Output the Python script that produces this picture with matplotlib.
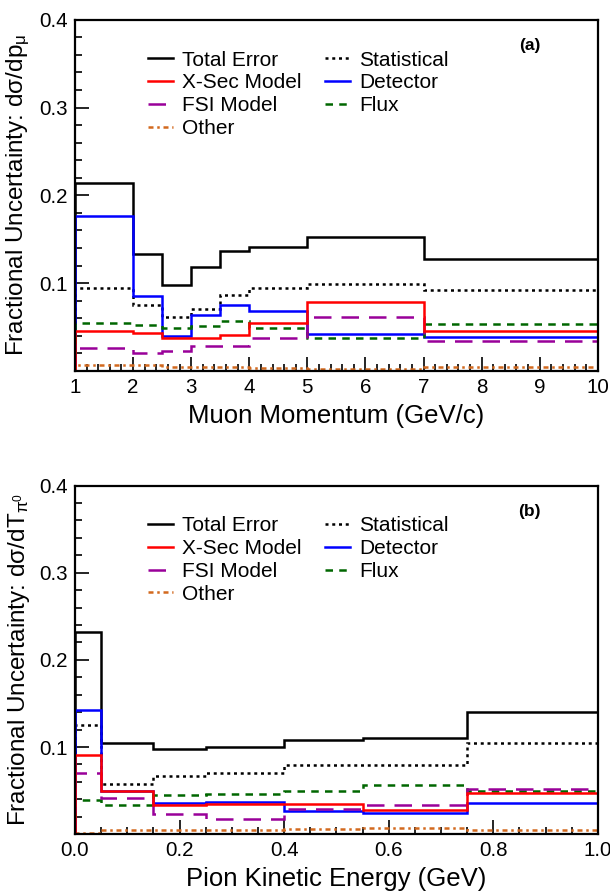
import matplotlib
matplotlib.use('Agg')
import matplotlib.pyplot as plt
from matplotlib.ticker import MultipleLocator, FormatStrFormatter, FuncFormatter

plt.rcParams['font.family'] = ['Liberation Sans', 'DejaVu Sans']
plt.rcParams['mathtext.default'] = 'regular'

# (a) muon momentum bins, GeV/c
mu_edges = [1, 2, 2.5, 3, 3.5, 4, 5, 7, 10]
mu_total = [0.214, 0.133, 0.098, 0.118, 0.137, 0.141, 0.152, 0.127]
mu_stat = [0.094, 0.075, 0.061, 0.071, 0.086, 0.094, 0.099, 0.092]
mu_xsec = [0.045, 0.043, 0.038, 0.038, 0.041, 0.055, 0.079, 0.045]
mu_det = [0.177, 0.085, 0.040, 0.064, 0.075, 0.068, 0.042, 0.039]
mu_fsi = [0.026, 0.021, 0.023, 0.028, 0.028, 0.037, 0.062, 0.034]
mu_flux = [0.055, 0.052, 0.049, 0.051, 0.057, 0.049, 0.037, 0.054]
mu_other = [0.007, 0.007, 0.005, 0.005, 0.004, 0.0035, 0.002, 0.005]

# (b) pion kinetic energy bins, GeV
pi_edges = [0.0, 0.05, 0.15, 0.25, 0.4, 0.55, 0.75, 1.0]
pi_total = [0.232, 0.105, 0.098, 0.100, 0.108, 0.110, 0.140]
pi_stat = [0.125, 0.058, 0.067, 0.070, 0.079, 0.079, 0.105]
pi_xsec = [0.091, 0.049, 0.034, 0.035, 0.035, 0.028, 0.047]
pi_det = [0.143, 0.050, 0.036, 0.037, 0.027, 0.024, 0.036]
pi_fsi = [0.070, 0.041, 0.023, 0.017, 0.029, 0.033, 0.052]
pi_flux = [0.039, 0.033, 0.045, 0.046, 0.049, 0.057, 0.049]
pi_other = [0.0015, 0.0045, 0.005, 0.005, 0.0055, 0.007, 0.005]

labels = ["Total Error", "X-Sec Model", "FSI Model", "Other",
          "Statistical", "Detector", "Flux"]
styles = {
    "Total Error": dict(color="black", ls="-"),
    "X-Sec Model": dict(color="#ff0000", ls="-"),
    "FSI Model": dict(color="#990099", ls=(0, (7, 4))),
    "Other": dict(color="#d2691e", ls=(0, (2, 1.5, 1, 1.5))),
    "Statistical": dict(color="black", ls=(0, (1.2, 1.5))),
    "Detector": dict(color="#0000ff", ls="-"),
    "Flux": dict(color="#006600", ls=(0, (3, 2.5))),
}
draw_order = ["Total Error", "Statistical", "Detector", "Flux",
              "FSI Model", "Other", "X-Sec Model"]


def no_zero(v, pos):
    return '' if abs(v) < 1e-9 else '%.1f' % v


def draw_panel(ax, edges, series, xlabel, ylabel, tag, xmajor, xminor, xfmt):
    handles = {}
    for name in draw_order:
        st = styles[name]
        ax.stairs(series[name], edges, baseline=0, color=st["color"],
                  linestyle=st["ls"], linewidth=1.8, zorder=2)
        handles[name], = ax.plot([], [], color=st["color"], linestyle=st["ls"],
                                 linewidth=1.8)
    ax.set_xlim(edges[0], edges[-1])
    ax.set_ylim(0, 0.4)
    ax.xaxis.set_major_locator(MultipleLocator(xmajor))
    ax.xaxis.set_minor_locator(MultipleLocator(xminor))
    ax.xaxis.set_major_formatter(FormatStrFormatter(xfmt))
    ax.yaxis.set_major_locator(MultipleLocator(0.1))
    ax.yaxis.set_minor_locator(MultipleLocator(0.02))
    ax.yaxis.set_major_formatter(FuncFormatter(no_zero))
    ax.tick_params(which='both', direction='in', top=False, right=False,
                   labelsize=14.8, width=1.2)
    ax.tick_params(which='major', length=10, pad=5)
    ax.tick_params(which='minor', length=5)
    for s in ax.spines.values():
        s.set_linewidth(1.6)
    ax.set_xlabel(xlabel, fontsize=18.5, labelpad=5)
    ax.set_ylabel(ylabel, fontsize=17.5)
    ax.yaxis.set_label_coords(-0.083, 0.5)
    ax.legend([handles[n] for n in labels], labels, ncol=2, frameon=False,
              loc='upper left', bbox_to_anchor=(0.1396, 0.912), fontsize=15,
              handlelength=1.2, handletextpad=0.45, labelspacing=0.18,
              columnspacing=1.1, borderaxespad=0, borderpad=0)
    ax.text(0.870, 0.926, tag, transform=ax.transAxes, fontsize=12.5,
            fontweight='bold', ha='center', va='center')


fig = plt.figure(figsize=(6.1, 8.96), dpi=100)
ax1 = fig.add_axes([0.123, 0.586, 0.857, 0.392])
ax2 = fig.add_axes([0.123, 0.069, 0.857, 0.389])

draw_panel(ax1, mu_edges,
           {"Total Error": mu_total, "Statistical": mu_stat, "X-Sec Model": mu_xsec,
            "Detector": mu_det, "FSI Model": mu_fsi, "Flux": mu_flux, "Other": mu_other},
           "Muon Momentum (GeV/c)",
           r"Fractional Uncertainty: d$\sigma$/dp$_{\mu}$", "(a)", 1, 0.2, '%d')
draw_panel(ax2, pi_edges,
           {"Total Error": pi_total, "Statistical": pi_stat, "X-Sec Model": pi_xsec,
            "Detector": pi_det, "FSI Model": pi_fsi, "Flux": pi_flux, "Other": pi_other},
           "Pion Kinetic Energy (GeV)",
           r"Fractional Uncertainty: d$\sigma$/dT$_{\pi^{0}}$", "(b)", 0.2, 0.05, '%.1f')

fig.savefig("out.png", dpi=100)
